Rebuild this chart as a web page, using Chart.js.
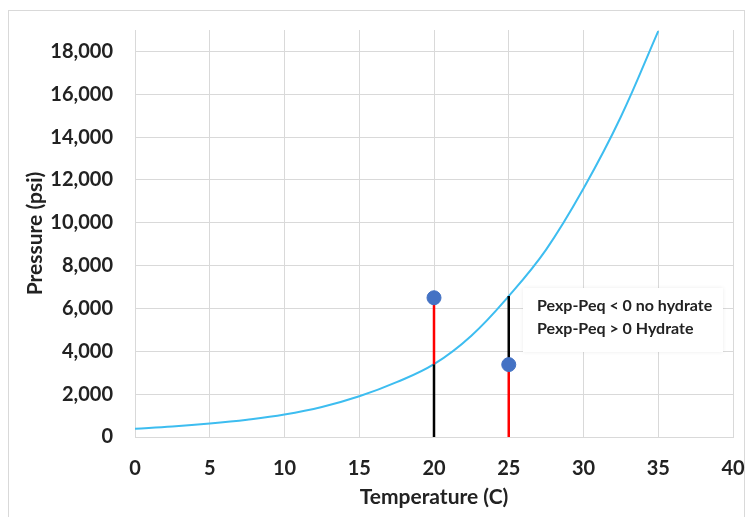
<!DOCTYPE html>
<html>
<head>
<meta charset="utf-8">
<script src="https://cdn.jsdelivr.net/npm/chart.js@4/dist/chart.umd.min.js"></script>
<style>
  html, body { margin: 0; padding: 0; background: #fff; }
  #wrap { width: 745px; height: 517px; position: relative; }
</style>
</head>
<body>
<div id="wrap"><canvas id="c" width="745" height="517"></canvas></div>
<script>
// Equilibrium (hydrate) curve
const temps = [0, 2.5, 5, 7.5, 10, 12.5, 15, 17.5, 20, 22.5, 25, 27.5, 30, 32.5, 35];
const pEq   = [385, 490, 630, 810, 1050, 1400, 1900, 2560, 3400, 4730, 6580, 8750, 11600, 14950, 18950];
// Experimental points
const expT = [20, 25];
const expP = [6500, 3380];
// Axis ticks
const xTicks = [0, 5, 10, 15, 20, 25, 30, 35, 40];
const yTicks = [0, 2000, 4000, 6000, 8000, 10000, 12000, 14000, 16000, 18000];
// Annotation text
const noteLines = ['Pexp-Peq < 0 no hydrate', 'Pexp-Peq > 0 Hydrate'];

const eqAt = t => pEq[temps.indexOf(t)];

// vertical segments: red from experimental point to curve (or to 0), black from curve to 0 (or to point)
const redSegs = [], blackSegs = [];
expT.forEach((t, i) => {
  const pe = eqAt(t), px = expP[i];
  if (px > pe) {
    redSegs.push([{x: t, y: px}, {x: t, y: pe}]);
    blackSegs.push([{x: t, y: pe}, {x: t, y: 0}]);
  } else {
    blackSegs.push([{x: t, y: pe}, {x: t, y: px}]);
    redSegs.push([{x: t, y: px}, {x: t, y: 0}]);
  }
});

const datasets = [];
datasets.push({
  label: 'Points',
  data: expT.map((t, i) => ({x: t, y: expP[i]})),
  showLine: false,
  pointRadius: 7,
  pointHoverRadius: 7,
  pointBackgroundColor: '#4472c4',
  pointBorderColor: '#4472c4',
  order: 0
});
redSegs.forEach(s => datasets.push({
  data: s, showLine: true, borderColor: '#ff0000', borderWidth: 2.5, pointRadius: 0, order: 1
}));
blackSegs.forEach(s => datasets.push({
  data: s, showLine: true, borderColor: '#000000', borderWidth: 2.5, pointRadius: 0, order: 1
}));
datasets.push({
  label: 'Peq',
  data: temps.map((t, i) => ({x: t, y: pEq[i]})),
  showLine: true,
  borderColor: '#3dbdf0',
  borderWidth: 2,
  pointRadius: 0,
  tension: 0.4,
  order: 2
});

const FONT = 'Lato, "Open Sans", sans-serif';

const decor = {
  id: 'decor',
  beforeDraw(chart) {
    const ctx = chart.ctx;
    ctx.save();
    ctx.fillStyle = '#ffffff';
    ctx.fillRect(0, 0, chart.width, chart.height);
    ctx.strokeStyle = '#d9d9d9';
    ctx.lineWidth = 1;
    ctx.strokeRect(8.5, 10.5, 736, 507);
    ctx.restore();
  },
  afterDraw(chart) {
    const ctx = chart.ctx;
    const ca = chart.chartArea;
    ctx.save();
    const bx = ca.left + 388, by = ca.top + 258, bw = 200, bh = 64;
    ctx.shadowColor = 'rgba(0,0,0,0.08)';
    ctx.shadowBlur = 4;
    ctx.fillStyle = '#ffffff';
    ctx.fillRect(bx, by, bw, bh);
    ctx.shadowColor = 'transparent';
    ctx.fillStyle = '#222222';
    ctx.font = 'bold 16px ' + FONT;
    ctx.textBaseline = 'middle';
    ctx.textAlign = 'left';
    ctx.fillText(noteLines[0], bx + 14, by + 18);
    ctx.fillText(noteLines[1], bx + 14, by + 41);
    ctx.restore();
  }
};

new Chart(document.getElementById('c'), {
  type: 'scatter',
  data: { datasets },
  plugins: [decor],
  options: {
    responsive: false,
    animation: false,
    devicePixelRatio: 1,
    layout: { padding: { left: 0, right: 12, top: 30, bottom: 0 } },
    plugins: { legend: { display: false }, tooltip: { enabled: false } },
    scales: {
      x: {
        type: 'linear',
        min: xTicks[0], max: xTicks[xTicks.length - 1],
        afterBuildTicks: s => { s.ticks = xTicks.map(v => ({value: v})); },
        afterFit: s => { s.height = 80; s.paddingLeft = 0; s.paddingRight = 0; },
        grid: { color: '#d9d9d9', lineWidth: 1, drawTicks: false },
        border: { color: '#d9d9d9' },
        ticks: { padding: 20, color: '#222', font: { family: FONT, size: 20, weight: 'bold' } },
        title: { display: true, text: 'Temperature (C)', color: '#222',
                 font: { family: FONT, size: 21, weight: 'bold' }, padding: { top: 0, bottom: 7 } }
      },
      y: {
        type: 'linear',
        min: 0, max: 19000,
        afterBuildTicks: s => { s.ticks = yTicks.map(v => ({value: v})); },
        afterFit: s => { s.width = 135; s.paddingTop = 0; s.paddingBottom = 0; },
        grid: { color: '#d9d9d9', lineWidth: 1, drawTicks: false },
        border: { color: '#d9d9d9' },
        ticks: { padding: 22, color: '#222', font: { family: FONT, size: 20, weight: 'bold' },
                 callback: v => v.toLocaleString('en-US') },
        title: { display: true, text: 'Pressure (psi)', color: '#222',
                 font: { family: FONT, size: 21, weight: 'bold' }, padding: { top: 23, bottom: 0 } }
      }
    }
  }
});
</script>
</body>
</html>
